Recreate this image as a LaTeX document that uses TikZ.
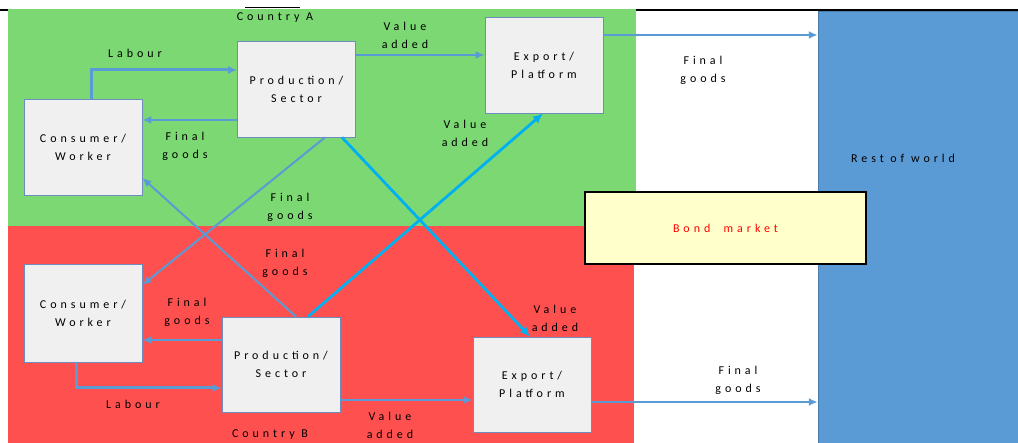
\documentclass[tikz,border=0pt]{standalone}
\usepackage{fontspec}
\setmainfont{Carlito}[LetterSpace=33]
\usetikzlibrary{arrows.meta}

\definecolor{cgreen}{RGB}{124,216,114}
\definecolor{cred}{RGB}{255,80,80}
\definecolor{crow}{RGB}{91,155,213}
\definecolor{cbox}{RGB}{240,240,240}
\definecolor{cboxline}{RGB}{110,140,190}
\definecolor{cflow}{RGB}{91,155,213}
\definecolor{cbright}{RGB}{0,176,240}
\definecolor{cbond}{RGB}{255,255,204}

\tikzset{
  agent/.style={draw=cboxline, fill=cbox, line width=0.8pt, align=center,
    text width=112pt, minimum width=118pt, minimum height=96pt, inner sep=2pt},
  flow/.style={draw=cflow, line width=2pt, ->,
    >={Latex[length=9pt,width=8pt]}},
  labour/.style={flow, line width=3pt},
  trade/.style={draw=cbright, line width=2.8pt, ->,
    >={Latex[length=10pt,width=9pt]}},
  lbl/.style={align=center, inner sep=0pt, text=black},
  every node/.append style={font=\fontsize{12}{18}\selectfont},
}

\begin{document}
\begin{tikzpicture}[x=1pt, y=-1pt]
  \useasboundingbox (0,0) rectangle (1018,443);

  % country regions
  \fill[cgreen] (8,9) rectangle (636,226);
  \fill[cred] (8,226) rectangle (634,443);

  % rest of world
  \node[fill=crow, draw=crow!80!black, line width=0.5pt, minimum width=200pt,
        minimum height=432pt, inner sep=0pt] (row) at (918,227) {};
  \node[lbl] (rowlbl) at (903,158) {Rest of world};

  % frame lines at the top
  \draw[black, line width=1.2pt] (636,10) -- (1018,10);
  \draw[black, line width=1.2pt] (0,10) -- (8,10);
  \draw[black, line width=1pt] (245,8) -- (300,8);

  % bond market
  \node[draw=black, fill=cbond, line width=2.2pt, minimum width=281pt,
        minimum height=72pt, text=red] (bond) at (725.5,228) {Bond\ \ market};

  % agents
  \node[agent] (pa) at (296.5,89) {Production/\\Sector};
  \node[agent] (ea) at (544,65) {Export/\\Platform};
  \node[agent] (ca) at (83,147) {Consumer/\\Worker};
  \node[agent, minimum height=98pt] (cb) at (83,313) {Consumer/\\Worker};
  \node[agent, minimum height=95pt] (pb) at (281,364.5) {Production/\\Sector};
  \node[agent, minimum height=95pt] (eb) at (532,384.5) {Export/\\Platform};

  \node[lbl] (cntA) at (275,18) {Country A};
  \node[lbl] (cntB) at (270,435) {Country B};

  % flows inside country A
  \coordinate (labA) at ([yshift=19pt]pa.west);
  \draw[labour] ([xshift=8pt]ca.north) |- (labA);
  \coordinate (fgA) at ([yshift=-31pt]pa.west);
  \draw[flow] (fgA) -- (fgA -| ca.east);
  \coordinate (vaA) at ([yshift=34pt]pa.east);
  \draw[flow] (vaA) -- (vaA -| ea.west);
  \coordinate (exA) at ([yshift=30pt]ea.east);
  \draw[flow] (exA) -- (exA -| row.west);

  % flows inside country B
  \coordinate (fgB) at ([yshift=24.5pt]pb.west);
  \draw[flow] (fgB) -- (fgB -| cb.east);
  \coordinate (labB) at ([yshift=-23.5pt]pb.west);
  \draw[labour] ([xshift=-7pt]cb.south) |- (labB);
  \coordinate (vaB) at ([yshift=-35.5pt]pb.east);
  \draw[flow] (vaB) -- (vaB -| eb.west);
  \coordinate (exB) at ([yshift=-17.5pt]eb.east);
  \draw[flow] (exB) -- (exB -| row.west);

  % cross-border flows
  \draw[flow] ([xshift=28.5pt]pa.south) -- ([yshift=28pt]cb.east);
  \draw[flow] ([xshift=15pt]pb.north) -- ([yshift=-31pt]ca.east);
  \draw[trade] ([xshift=45.5pt]pa.south) -- ([xshift=-2pt]eb.north);
  \draw[trade] ([xshift=27pt]pb.north) -- ([xshift=-1pt]ea.south);

  % flow labels
  \node[lbl] (l1) at (135,53) {Labour};
  \node[lbl] (l2) at (185,146) {Final\\goods};
  \node[lbl] (l3) at (405,35) {Value\\added};
  \node[lbl] (l4) at (703,70) {Final\\goods};
  \node[lbl] (l5) at (290,207) {Final\\goods};
  \node[lbl] (l6) at (285,263) {Final\\goods};
  \node[lbl] (l7) at (465,133) {Value\\added};
  \node[lbl] (l8) at (555,318) {Value\\added};
  \node[lbl] (l9) at (187,312) {Final\\goods};
  \node[lbl] (l10) at (133,404) {Labour};
  \node[lbl] (l11) at (390,425) {Value\\added};
  \node[lbl] (l12) at (738,380) {Final\\goods};
\end{tikzpicture}
\end{document}
